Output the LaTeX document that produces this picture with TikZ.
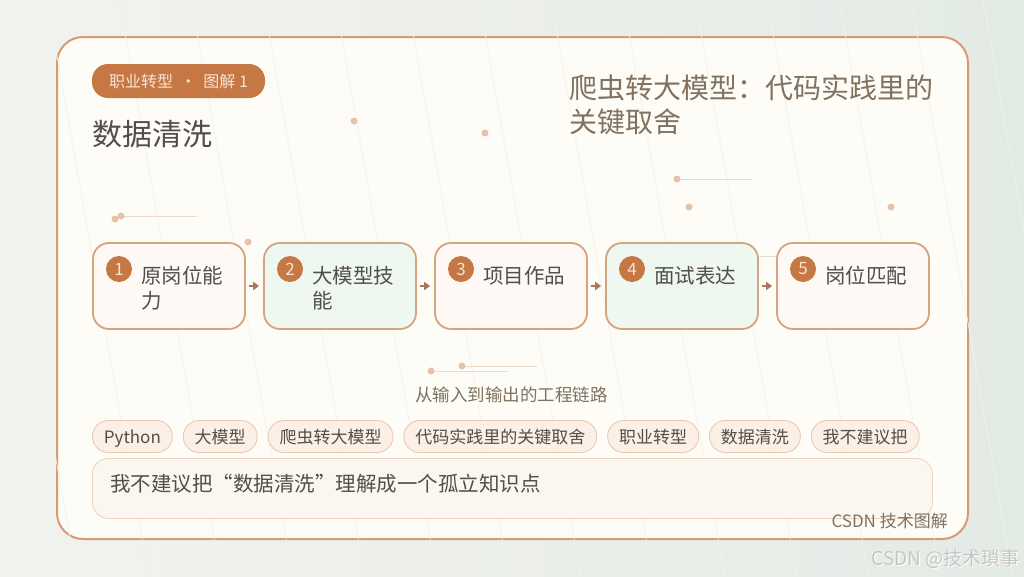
\documentclass[tikz,border=0pt]{standalone}
\usepackage{fontspec}
\setmainfont{Noto Sans CJK SC}
\usetikzlibrary{arrows.meta,positioning}
\definecolor{bgA}{HTML}{F3F2EE}
\definecolor{bgB}{HTML}{E3EBE5}
\definecolor{cardfill}{HTML}{FDFCF7}
\definecolor{cardborder}{HTML}{D59C72}
\definecolor{accent}{HTML}{C57843}
\definecolor{accenttext}{HTML}{F6E4D6}
\definecolor{boxborder}{HTML}{D6A37F}
\definecolor{warmfill}{HTML}{FEF9F5}
\definecolor{mintfill}{HTML}{EEF7F0}
\definecolor{textdark}{HTML}{524E4A}
\definecolor{textsoft}{HTML}{80725F}
\definecolor{tagfill}{HTML}{FBEFE6}
\definecolor{tagborder}{HTML}{E9C7AE}
\definecolor{notefill}{HTML}{FCF6F0}
\definecolor{noteborder}{HTML}{EDD3BE}
\definecolor{dotcol}{HTML}{E8C2A8}
\definecolor{dotline}{HTML}{ECDACB}
\definecolor{arrowcol}{HTML}{A9775A}
\definecolor{stripe}{HTML}{F2F2EC}
\definecolor{wmark}{HTML}{C6C6C6}
\tikzset{
  card/.style={draw=cardborder, line width=2pt, fill=cardfill, rounded corners=26pt,
    minimum width=911pt, minimum height=502pt, inner sep=0pt},
  pill/.style={fill=accent, rounded corners=16pt, minimum width=173pt, minimum height=34pt,
    inner sep=0pt, text=accenttext, font=\fontsize{16}{19}\selectfont},
  stepbox/.style={draw=boxborder, line width=1.8pt, rounded corners=16pt,
    minimum width=152pt, minimum height=86pt, inner sep=0pt},
  numdot/.style={circle, fill=accent, minimum size=26pt, inner sep=0pt,
    text=accenttext, font=\fontsize{17}{20}\selectfont},
  steptext/.style={anchor=base west, inner sep=0pt, text=textdark, text width=100pt,
    align=left, font=\fontsize{20.5}{25}\selectfont},
  flowarrow/.style={draw=arrowcol, line width=2pt, -{Triangle[length=6pt,width=8pt]},
    shorten <=3pt, shorten >=4pt},
  tag/.style={draw=tagborder, fill=tagfill, line width=0.8pt, rounded corners=16pt,
    minimum height=32pt, inner xsep=11.5pt, inner ysep=0pt, text=textdark,
    text height=16pt, text depth=2pt,
    font=\fontsize{17}{20}\selectfont},
  notebox/.style={draw=noteborder, fill=notefill, line width=0.8pt, rounded corners=16pt,
    minimum width=840pt, minimum height=60pt, inner sep=0pt},
  dot/.style={circle, fill=dotcol, minimum size=7pt, inner sep=0pt},
  deco/.style={draw=dotline, line width=1pt},
}
\begin{document}
\begin{tikzpicture}[x=1pt,y=-1pt]
\useasboundingbox (0,0) rectangle (1024,576);
\shade[left color=bgA, right color=bgB] (0,0) rectangle (1024,576);
% card
\node[card] (card) at (512.5,288) {};
% faint stripes
\foreach \k in {-3,...,13} {
  \draw[stripe, line width=0.7pt] ({128+72*\k-0.176*50},0) -- ({128+72*\k+0.176*526},576);
}
% tag pill and titles
\node[pill] (pill) at (178.5,81) {职业转型\ \ ·\ \ 图解 1};
\node[anchor=base west, inner sep=0pt, text=textdark, font=\fontsize{30}{34}\selectfont] (title) at (92,145) {数据清洗};
\node[anchor=base west, inner sep=0pt, text=textsoft, font=\fontsize{28}{34}\selectfont] (sub1) at (569,98) {爬虫转大模型：代码实践里的};
\node[anchor=base west, inner sep=0pt, text=textsoft, font=\fontsize{28}{34}\selectfont] (sub2) at (569,132) {关键取舍};
% decorative dots and lines
\coordinate (l1a) at (121,216); \coordinate (l1b) at (197,216);
\coordinate (l2a) at (677,179); \coordinate (l2b) at (752,179);
\coordinate (l3a) at (431,371); \coordinate (l3b) at (507,371);
\coordinate (l4a) at (462,366); \coordinate (l4b) at (537,366);
\coordinate (l5a) at (758,256); \coordinate (l5b) at (777,256);
\draw[deco] (l1a) -- (l1b);
\draw[deco] (l2a) -- (l2b);
\draw[deco] (l3a) -- (l3b);
\draw[deco] (l4a) -- (l4b);
\draw[deco] (l5a) -- (l5b);
\node[dot] (d1) at (354,121) {};
\node[dot] (d2) at (485,133) {};
\node[dot] (d3) at (l2a) {};
\node[dot] (d4) at (689,207) {};
\node[dot] (d5) at (891,207) {};
\node[dot] (d6) at (115,219) {};
\node[dot] (d7) at (l1a) {};
\node[dot] (d8) at (248,242) {};
\node[dot] (d9) at (l3a) {};
\node[dot] (d10) at (l4a) {};
% steps
\node[stepbox, fill=warmfill] (b1) at (169,286) {};
\node[stepbox, fill=mintfill] (b2) at (340,286) {};
\node[stepbox, fill=warmfill] (b3) at (511,286) {};
\node[stepbox, fill=mintfill] (b4) at (682,286) {};
\node[stepbox, fill=warmfill] (b5) at (853,286) {};
\foreach \i/\x/\t in {1/93/{原岗位能\\力},2/264/{大模型技\\能},3/435/{项目作品},4/606/{面试表达},5/777/{岗位匹配}} {
  \node[numdot] (n\i) at ({\x+26},269) {\i};
  \node[steptext] (t\i) at ({\x+48},283) {\t};
}
\draw[flowarrow] (b1) -- (b2);
\draw[flowarrow] (b2) -- (b3);
\draw[flowarrow] (b3) -- (b4);
\draw[flowarrow] (b4) -- (b5);
% caption
\node[anchor=base, inner sep=0pt, text=textsoft, font=\fontsize{17.5}{20}\selectfont] (cap) at (511.5,401) {从输入到输出的工程链路};
% tags
\node[tag, anchor=west] (g1) at (92,436.5) {Python};
\node[tag, right=10pt of g1] (g2) {大模型};
\node[tag, right=10pt of g2] (g3) {爬虫转大模型};
\node[tag, right=10pt of g3] (g4) {代码实践里的关键取舍};
\node[tag, right=10pt of g4] (g5) {职业转型};
\node[tag, right=10pt of g5] (g6) {数据清洗};
\node[tag, right=10pt of g6] (g7) {我不建议把};
% note
\node[notebox, anchor=north west] (note) at (92,458) {};
\node[anchor=base west, inner sep=0pt, text=textdark, font=\fontsize{20.5}{24}\selectfont] (notetext) at (110,491) {我不建议把“数据清洗”理解成一个孤立知识点};
% footer
\node[anchor=base east, inner sep=0pt, text=textsoft, font=\fontsize{17}{20}\selectfont] (foot) at (948,527) {CSDN 技术图解};
\node[anchor=base east, inner sep=0pt, text=white, font=\fontsize{19}{22}\selectfont] (wm2) at (1021,566) {CSDN @技术瑣事};
\node[anchor=base east, inner sep=0pt, text=wmark, font=\fontsize{19}{22}\selectfont] (wm) at (1020,565) {CSDN @技术瑣事};
\end{tikzpicture}
\end{document}
